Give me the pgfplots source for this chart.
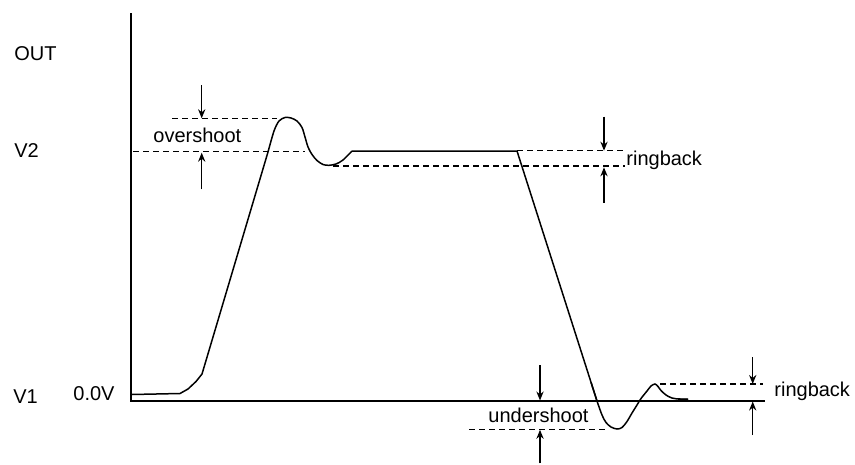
\documentclass[border=0pt]{standalone}
\usepackage{pgfplots}
\pgfplotsset{compat=1.18}
\usetikzlibrary{arrows.meta}
\usepackage{fontspec}
\setmainfont{Liberation Sans}
\tikzset{
  lbl/.style={anchor=base west, inner sep=0pt, font=\fontsize{10}{12}\selectfont},
  dsh/.style={line width=0.65pt, dash pattern=on 3pt off 2pt},
  arr/.style={line width=0.75pt, -{Stealth[length=4.5pt,width=3.6pt]}},
}
\begin{document}
\begin{tikzpicture}
\begin{axis}[
  width=427.5pt, height=232pt, scale only axis,
  xmin=0, xmax=855, ymin=0, ymax=464, y dir=reverse,
  hide axis, clip=false,
  every axis plot/.append style={line width=0.75pt, black},
]
% canvas
\addplot[draw=none] coordinates {(0,0) (855,464)};
% axes
\addplot[black, no marks, line join=miter] coordinates {(131,13) (131,401) (765,401)};
% waveform
\addplot[line join=round] coordinates {(131.5,394.5) (180,393.5) (188,389) (196,381.5) (202,374) (268,152)};
\addplot[smooth] coordinates {(268,152) (274,131) (279,121) (285,117.5) (291,118) (297,121) (302,127.5) (305,137) (308,147) (312,154.5) (317,160.5) (323,164.5) (329,165.3) (336,164) (343,160) (352,151)};
\addplot[line join=round] coordinates {(352,151) (517,151) (597,401)};
\addplot[smooth] coordinates {(591,382.25) (597,401) (602,415) (606,422.5) (611,427) (617,429) (622,427.5) (627,421.5) (632,413) (637,405) (641,398.5) (647,391) (651,386) (655,384) (658,386.5) (661,390.5) (666,395) (672,398) (680,399.2) (688,399.5)};
\addplot[line width=1.1pt] coordinates {(678,399.3) (688,399.5)};
% dashed reference lines
\addplot[dsh] coordinates {(172,118.3) (277,118.3)};
\addplot[dsh] coordinates {(133,151.7) (305,151.7)};
\addplot[dsh] coordinates {(517,150.7) (625,150.7)};
\addplot[dsh] coordinates {(333,166) (625,166)};
\addplot[dsh] coordinates {(469,429.3) (608,429.3)};
\addplot[dsh] coordinates {(660,384) (763,384)};
% arrows
\addplot[arr] coordinates {(201.7,85) (201.7,118.3)};
\addplot[arr] coordinates {(201.7,189.3) (201.7,152.7)};
\addplot[arr] coordinates {(604,116.7) (604,150.7)};
\addplot[arr] coordinates {(604,202.7) (604,167.3)};
\addplot[arr] coordinates {(540,365) (540,400.5)};
\addplot[arr] coordinates {(540,463.3) (540,429.8)};
\addplot[arr] coordinates {(752.7,357) (752.7,384)};
\addplot[arr] coordinates {(752.7,435) (752.7,401.5)};
% labels
\node[lbl] at (axis cs:14,60) {OUT};
\node[lbl] at (axis cs:14,157) {V2};
\node[lbl] at (axis cs:13,403) {V1};
\node[lbl] at (axis cs:73,400.7) {0.0V};
\node[lbl] at (axis cs:153,142.3) {overshoot};
\node[lbl] at (axis cs:626,165) {ringback};
\node[lbl] at (axis cs:488,422.7) {undershoot};
\node[lbl] at (axis cs:774,396.7) {ringback};
\end{axis}
\end{tikzpicture}
\end{document}
